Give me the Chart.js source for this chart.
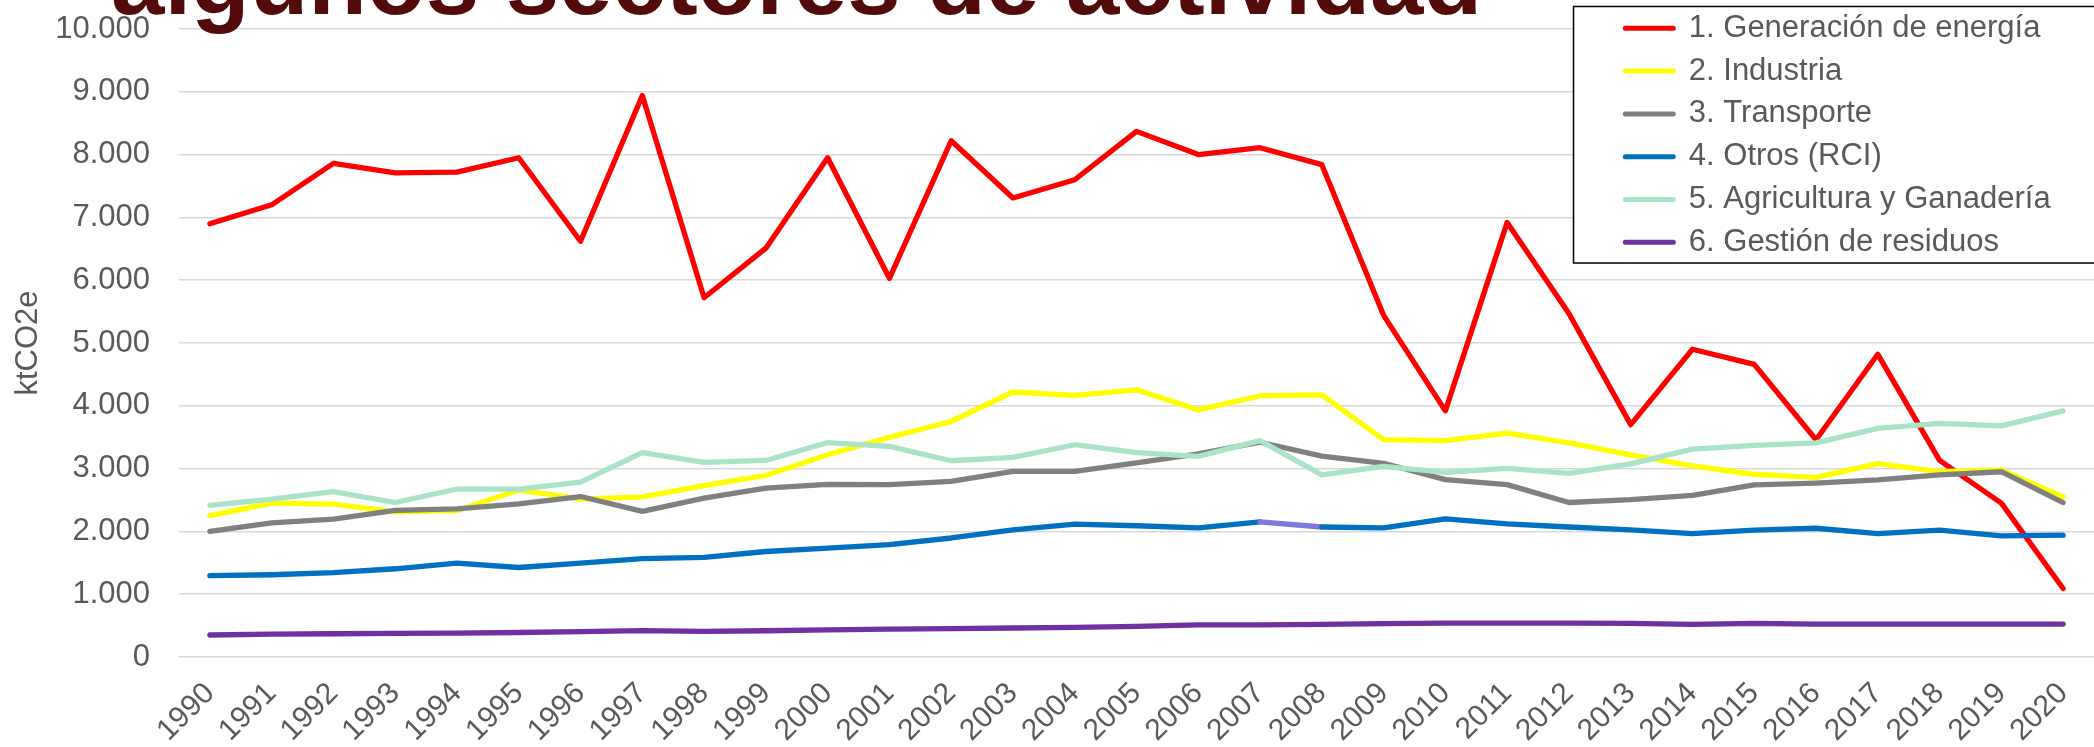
<!DOCTYPE html>
<html>
<head>
<meta charset="utf-8">
<script src="https://cdn.jsdelivr.net/npm/chart.js@4.4.1/dist/chart.umd.min.js"></script>
<style>
html,body{margin:0;padding:0;background:#fff;overflow:hidden}
#wrap{position:relative;width:2094px;height:747px}
</style>
</head>
<body>
<div id="wrap"><canvas id="c" width="2094" height="747"></canvas></div>
<script>
const TITLE = 'algunos sectores de actividad';
const Y_TITLE = 'ktCO2e';
const years = ['1990','1991','1992','1993','1994','1995','1996','1997','1998','1999','2000','2001','2002','2003','2004','2005','2006','2007','2008','2009','2010','2011','2012','2013','2014','2015','2016','2017','2018','2019','2020'];
const seriesNames = ['1. Generación de energía','2. Industria','3. Transporte','4. Otros (RCI)','5. Agricultura y Ganadería','6. Gestión de residuos'];
const generacion = [6900,7200,7860,7710,7720,7950,6620,8940,5720,6510,7950,6030,8220,7310,7600,8370,8000,8110,7840,5440,3920,6920,5470,3700,4900,4660,3460,4820,3130,2450,1090];
const industria = [2250,2450,2435,2310,2330,2660,2515,2550,2730,2890,3220,3500,3750,4220,4165,4255,3935,4160,4175,3460,3445,3565,3410,3220,3045,2910,2860,3080,2950,2980,2550];
const transporte = [2000,2135,2195,2335,2360,2440,2555,2320,2530,2690,2750,2745,2795,2955,2955,3090,3235,3420,3200,3085,2825,2745,2460,2505,2575,2740,2770,2820,2900,2950,2460];
const otros = [1295,1310,1345,1405,1495,1425,1495,1565,1585,1680,1735,1790,1895,2025,2115,2090,2055,2150,2070,2055,2200,2120,2070,2025,1965,2020,2050,1965,2020,1930,1940];
const agricultura = [2415,2515,2635,2460,2675,2675,2785,3255,3100,3130,3415,3355,3125,3180,3380,3255,3195,3445,2900,3035,2940,3005,2925,3075,3310,3370,3410,3640,3720,3680,3920];
const residuos = [350,365,370,375,380,390,405,420,408,418,432,445,452,462,472,488,512,510,520,530,540,540,540,535,520,535,525,525,525,525,525];
const yTicks = [0,1000,2000,3000,4000,5000,6000,7000,8000,9000,10000];

const seriesValues = [generacion, industria, transporte, otros, agricultura, residuos];
const colors = ['#ff0000','#ffff00','#808080','#0070c0','#abe3c8','#7030a0'];
const FONT = "'Liberation Sans', Arial, sans-serif";
const TXT = '#595959';

function fmt(v){ return String(v).replace(/\B(?=(\d{3})+(?!\d))/g, '.'); }

const datasets = seriesValues.map((vals, i) => {
  const ds = {
    label: seriesNames[i],
    data: vals,
    borderColor: colors[i],
    backgroundColor: colors[i],
    borderWidth: 5.3,
    pointRadius: 0,
    pointHoverRadius: 0,
    tension: 0,
    borderCapStyle: 'round',
    borderJoinStyle: 'round',
    fill: false,
    order: 6 - i
  };
  if (i === 3) {
    ds.segment = { borderColor: ctx => ctx.p0DataIndex === 17 ? '#8078dc' : undefined };
  }
  return ds;
});

const legendPlace = {
  id: 'legendPlace',
  afterLayout(chart) {
    const lg = chart.legend;
    if (!lg) return;
    lg.left = 1613.5; lg.top = 1;
    lg.right = lg.left + lg.width; lg.bottom = lg.top + lg.height;
    if (lg.adjustHitBoxes) lg.adjustHitBoxes();
  },
  afterDraw(chart) {
    const ctx = chart.ctx;
    ctx.save();
    ctx.fillStyle = '#ffffff';
    ctx.fillRect(1573.5, 6.5, 530, 256.5);
    ctx.strokeStyle = '#000000';
    ctx.lineWidth = 1.5;
    ctx.strokeRect(1573.5, 6.5, 530, 256.5);
    ctx.restore();
    chart.legend.draw();
  }
};

const slideTitle = {
  id: 'slideTitle',
  afterDraw(chart) {
    const ctx = chart.ctx;
    ctx.save();
    ctx.font = "bold 96px " + FONT;
    ctx.fillStyle = '#520a0a';
    ctx.textBaseline = 'alphabetic';
    ctx.textAlign = 'left';
    ctx.fillText(TITLE, 111, 14);
    ctx.restore();
  }
};

Chart.defaults.font.family = FONT;
Chart.defaults.color = TXT;

new Chart(document.getElementById('c'), {
  type: 'line',
  data: { labels: years, datasets },
  plugins: [legendPlace, slideTitle],
  options: {
    responsive: false,
    animation: false,
    devicePixelRatio: 1,
    layout: { padding: { top: 29, right: 0, bottom: 0, left: 0 } },
    plugins: {
      tooltip: { enabled: false },
      title: { display: false },
      legend: {
        position: 'chartArea',
        align: 'start',
        labels: {
          color: TXT,
          font: { size: 31, family: FONT },
          usePointStyle: true,
          pointStyle: 'line',
          pointStyleWidth: 48,
          padding: 11.8,
          generateLabels(chart) {
            const items = Chart.defaults.plugins.legend.labels.generateLabels(chart);
            items.forEach(it => {
              const c = colors[it.datasetIndex];
              it.lineWidth = 5; it.strokeStyle = c; it.fillStyle = c;
              it.pointStyle = 'line'; it.lineCap = 'round'; it.fontColor = TXT;
            });
            return items.sort((a, b) => a.datasetIndex - b.datasetIndex);
          }
        }
      }
    },
    scales: {
      x: {
        type: 'category',
        offset: true,
        grid: { display: false, drawTicks: false },
        border: { display: false },
        ticks: {
          autoSkip: false, maxRotation: 45, minRotation: 45,
          color: TXT, font: { size: 30, family: FONT }, padding: 19
        },
        afterFit(scale) { scale.height = 90; scale.paddingLeft = 0; scale.paddingRight = 0; }
      },
      y: {
        min: 0, max: 10000,
        afterBuildTicks(scale) { scale.ticks = yTicks.map(v => ({ value: v })); },
        grid: { color: '#d9d9d9', lineWidth: 1.5, drawTicks: false },
        border: { display: false },
        ticks: {
          color: TXT, font: { size: 31, family: FONT }, padding: 29,
          callback: v => fmt(v)
        },
        title: {
          display: true, text: Y_TITLE, color: TXT,
          font: { size: 31, family: FONT }, padding: { top: 10, bottom: 0 }
        },
        afterFit(scale) { scale.width = 179; scale.paddingTop = 0; scale.paddingBottom = 0; }
      }
    }
  }
});
</script>
</body>
</html>
